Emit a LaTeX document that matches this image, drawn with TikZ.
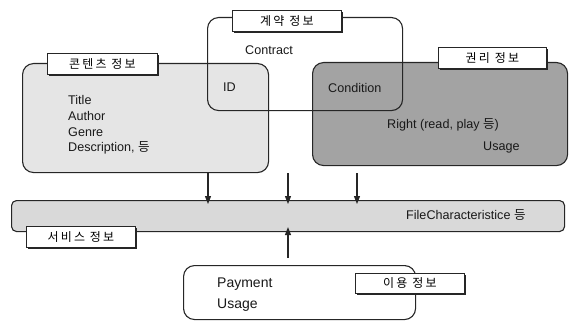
\documentclass[tikz,border=0pt]{standalone}
\usepackage{fontspec}
\setmainfont{Liberation Sans}
\newfontfamily\kr{Noto Sans CJK KR}
\newfontfamily\krlab[LetterSpace=18]{Noto Sans CJK KR}
\usetikzlibrary{shadows,arrows.meta}
\begin{document}
\begin{tikzpicture}[x=1pt,y=-1pt,
  box/.style={draw=black!85,line width=1.1pt,rounded corners=11pt,rectangle,inner sep=0pt,anchor=north west},
  tag/.style={draw=black!85,line width=0.8pt,fill=white,rectangle,inner sep=0pt,anchor=north west,
     font=\krlab\fontsize{12}{14}\selectfont,
     drop shadow={shadow xshift=1.8pt,shadow yshift=-1.8pt,fill=black!85,opacity=1}},
  txt/.style={anchor=west,inner sep=0pt,text=black!90,font=\fontsize{12.6}{15}\selectfont},
  arr/.style={-{Triangle[length=8pt,width=6pt]},line width=1.1pt,draw=black!85,fill=black!85}]
\useasboundingbox (0,0) rectangle (573,321);
% boxes
\node[box,fill=black!10,minimum width=246pt,minimum height=109pt] (content) at (22,63) {};
\node[box,fill=black!36,minimum width=255pt,minimum height=103pt] (rights) at (312,62) {};
\node[box,minimum width=195pt,minimum height=93pt] (contract) at (207,17) {};
\node[box,fill=black!15,rounded corners=5pt,minimum width=553pt,minimum height=31pt] (service) at (11,200) {};
\node[box,fill=white,minimum width=232pt,minimum height=54pt] (payment) at (183,265) {};
% labels
\node[tag,minimum width=110pt,minimum height=21pt] (lcontent) at (47,53) {콘텐츠 정보};
\node[tag,minimum width=109pt,minimum height=21pt] (lcontract) at (232,10) {계약 정보};
\node[tag,minimum width=108pt,minimum height=21pt] (lrights) at (438,47) {권리 정보};
\node[tag,minimum width=109pt,minimum height=21pt] (lservice) at (26,226) {서비스 정보};
\node[tag,minimum width=109pt,minimum height=20pt] (lpayment) at (355,273) {이용 정보};
% texts
\node[txt] (t1) at (68,100) {Title};
\node[txt] (t2) at (68,116) {Author};
\node[txt] (t3) at (68,132) {Genre};
\node[txt] (t4) at (68,148) {Description, {\kr 등}};
\node[txt] (t5) at (245,50) {Contract};
\node[txt] (t6) at (223,87) {ID};
\node[txt] (t7) at (328,88) {Condition};
\node[txt] (t8) at (387,125) {Right (read, play {\kr 등})};
\node[txt] (t9) at (483,147) {Usage};
\node[txt] (t10) at (406,215) {FileCharacteristice {\kr 등}};
\node[txt,font=\fontsize{14}{16}\selectfont] (t11) at (217,284) {Payment};
\node[txt,font=\fontsize{14}{16}\selectfont] (t12) at (217,305) {Usage};
% arrows
\coordinate (a1) at (208,173);
\coordinate (a2) at (288,173);
\coordinate (a3) at (357,173);
\coordinate (a4) at (288,258);
\draw[arr] (a1) -- ([yshift=-4pt]a1 |- service.north);
\draw[arr] (a2) -- ([yshift=-4pt]a2 |- service.north);
\draw[arr] (a3) -- ([yshift=-4pt]a3 |- service.north);
\draw[arr] (a4) -- ([yshift=5pt]a4 |- service.south);
\end{tikzpicture}
\end{document}
